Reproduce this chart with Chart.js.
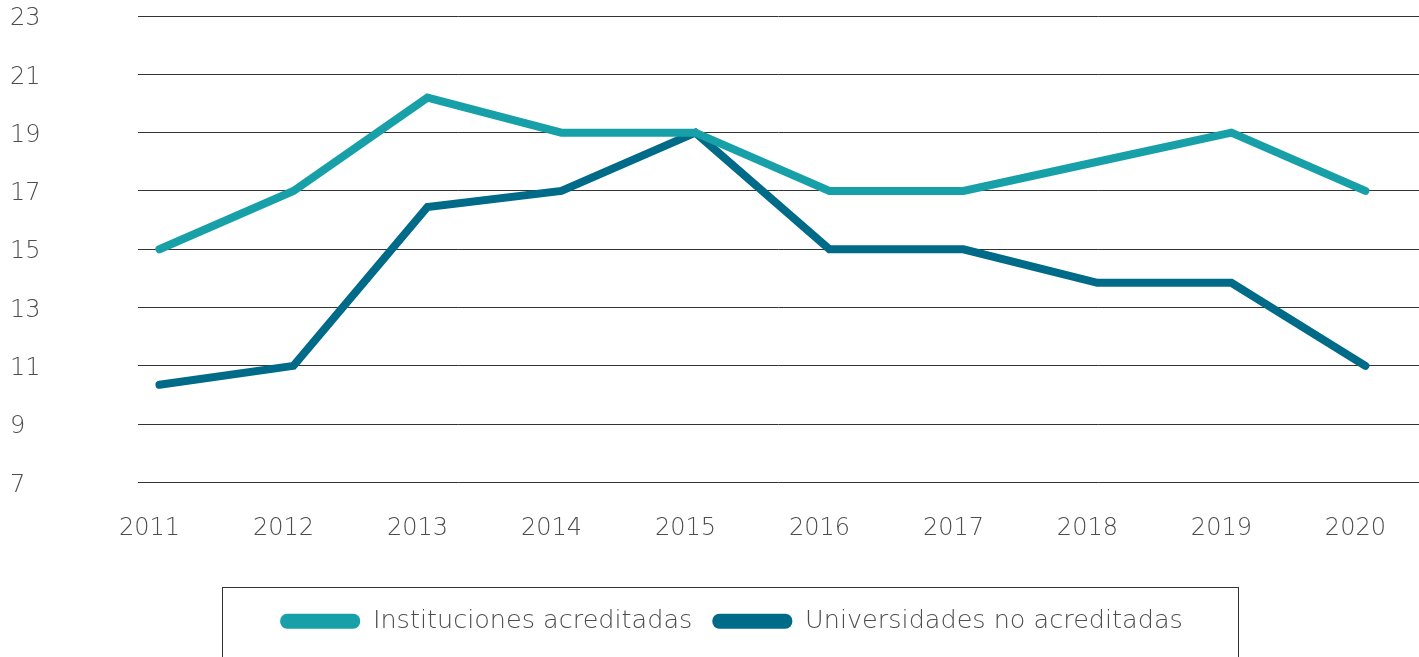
<!DOCTYPE html>
<html>
<head>
<meta charset="utf-8">
<script src="https://cdn.jsdelivr.net/npm/chart.js@4/dist/chart.umd.min.js"></script>
<style>
  html, body { margin: 0; padding: 0; background: #fff; }
  #wrap { width: 1419px; height: 657px; }
</style>
</head>
<body>
<div id="wrap"><canvas id="chart"></canvas></div>
<script>
var YEARS = [2011, 2012, 2013, 2014, 2015, 2016, 2017, 2018, 2019, 2020];
var ACREDITADAS = [15, 17, 20.2, 19, 19, 17, 17, 18, 19, 17];
var NO_ACREDITADAS = [10.35, 11, 16.45, 17, 19, 15, 15, 13.85, 13.85, 11];
var LABELS = ['Instituciones acreditadas', 'Universidades no acreditadas'];
var COLORS = ['#17a0a8', '#006b88'];

var TEXT = '#4d4d4d';
var FONT = "'DejaVu Sans', sans-serif";

function points(values){
    return YEARS.map(function(y, i){ return {x: y, y: values[i]}; });
}

// nudge the legend a bit right and draw a box round it
var legendBox = {
    id: 'legendBox',
    afterUpdate: function(chart){
        var legend = chart.legend;
        legend.left += 34;
        (legend.legendHitBoxes || []).forEach(function(b){ b.left += 17; });
    },
    afterDraw: function(chart){
        var boxes = chart.legend.legendHitBoxes;
        if (!boxes || !boxes.length) return;
        var left = Infinity, right = -Infinity, top = Infinity;
        boxes.forEach(function(b){
            left = Math.min(left, b.left);
            right = Math.max(right, b.left + b.width);
            top = Math.min(top, b.top);
        });
        var ctx = chart.ctx;
        ctx.save();
        ctx.strokeStyle = '#333';
        ctx.lineWidth = 1;
        ctx.strokeRect(Math.round(left - 58) + 0.5, Math.round(top - 22) + 0.5, Math.round(right - left + 113), 200);
        ctx.restore();
    }
};

var ctx = document.getElementById('chart').getContext('2d');

new Chart(ctx, {
    type: 'line',
    data: {
        datasets: [{
            label: LABELS[0],
            data: points(ACREDITADAS),
            borderColor: COLORS[0],
            backgroundColor: COLORS[0],
            borderWidth: 8,
            pointRadius: 0,
            tension: 0,
            borderCapStyle: 'round',
            borderJoinStyle: 'miter'
        }, {
            label: LABELS[1],
            data: points(NO_ACREDITADAS),
            borderColor: COLORS[1],
            backgroundColor: COLORS[1],
            borderWidth: 8,
            pointRadius: 0,
            tension: 0,
            borderCapStyle: 'round',
            borderJoinStyle: 'miter'
        }]
    },
    options: {
        responsive: true,
        maintainAspectRatio: false,
        animation: false,
        layout: {
            padding: {left: 10, right: 0, top: 16, bottom: 13}
        },
        plugins: {
            title: { display: false },
            tooltip: { enabled: false },
            legend: {
                display: true,
                position: 'bottom',
                labels: {
                    color: TEXT,
                    font: { family: FONT, size: 25.5, weight: '200' },
                    boxWidth: 80,
                    boxHeight: 15,
                    padding: 20,
                    useBorderRadius: true,
                    borderRadius: 7,
                    generateLabels: function(chart){
                        var items = Chart.defaults.plugins.legend.labels.generateLabels(chart);
                        items.forEach(function(it){ it.lineWidth = 0; });
                        return items;
                    }
                }
            }
        },
        scales: {
            x: {
                type: 'linear',
                min: 2010.84,
                max: 2020.4,
                grid: { display: false, drawTicks: true, tickLength: 32 },
                border: { display: false },
                ticks: {
                    stepSize: 1,
                    includeBounds: false,
                    padding: 0,
                    labelOffset: -10,
                    color: TEXT,
                    font: { family: FONT, size: 24, weight: '200' },
                    callback: function(v){ return String(v); }
                },
                afterFit: function(scale){ scale.height = 106; }
            },
            y: {
                min: 7,
                max: 23,
                grid: { color: '#333', lineWidth: 1, drawTicks: false },
                border: { display: false },
                ticks: {
                    stepSize: 2,
                    crossAlign: 'far',
                    padding: 0,
                    labelOffset: 3,
                    color: TEXT,
                    font: { family: FONT, size: 24, weight: '200' }
                },
                afterFit: function(scale){ scale.width = 128; }
            }
        }
    },
    plugins: [legendBox]
});
</script>
</body>
</html>
